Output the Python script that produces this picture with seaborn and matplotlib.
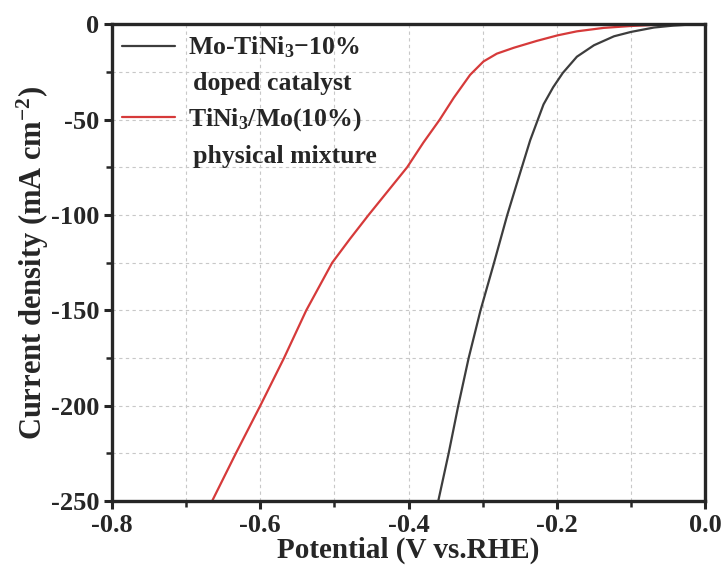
import matplotlib
matplotlib.use("Agg")
import matplotlib.pyplot as plt
import seaborn as sns
import pandas as pd
from matplotlib.ticker import MultipleLocator
from matplotlib.lines import Line2D

# Data
doped_x = [-0.360, -0.346, -0.333, -0.319, -0.303, -0.285, -0.267, -0.254, -0.236,
           -0.218, -0.205, -0.192, -0.173, -0.150, -0.123, -0.100, -0.069, -0.043,
           -0.020, 0.0]
doped_y = [-250, -225, -200, -175, -150, -125.4, -100.1, -83.5, -60.8,
           -42.0, -33.0, -25.5, -17.0, -11.0, -6.3, -4.0, -1.7, -0.7,
           -0.15, 0]
mix_x = [-0.665, -0.633, -0.600, -0.568, -0.538, -0.503, -0.479, -0.454, -0.428,
         -0.402, -0.380, -0.358, -0.339, -0.317, -0.299, -0.281, -0.258, -0.227,
         -0.199, -0.173, -0.137, -0.100, -0.070, -0.040, 0.0]
mix_y = [-250, -225, -200, -175, -150, -125, -112.5, -100, -87.5,
         -75, -62, -50.0, -38.5, -26.5, -19.5, -15.4, -12.3, -8.7,
         -5.8, -3.7, -1.9, -0.9, -0.35, -0.1, 0]
series_names = ["Mo-TiNi$_3$\u221210%", "TiNi$_3$/Mo(10%)"]
series_notes = ["\u2009doped catalyst", "\u2009physical mixture"]
colors = ["#3d3d3d", "#d63a3a"]

df = pd.concat([
    pd.DataFrame({"x": doped_x, "y": doped_y, "s": series_names[0]}),
    pd.DataFrame({"x": mix_x, "y": mix_y, "s": series_names[1]}),
])

sns.set_style("ticks")
plt.rcParams["font.family"] = ["Liberation Serif", "DejaVu Serif"]
plt.rcParams["font.weight"] = "bold"
plt.rcParams["axes.unicode_minus"] = False
plt.rcParams["mathtext.fontset"] = "custom"
plt.rcParams["mathtext.rm"] = "Liberation Serif:bold"
plt.rcParams["mathtext.bf"] = "Liberation Serif:bold"
plt.rcParams["mathtext.it"] = "Liberation Serif:bold"
plt.rcParams["mathtext.default"] = "rm"

fig = plt.figure(figsize=(7.27, 5.78), dpi=100)
ax = fig.add_axes([0.154, 0.133, 0.816, 0.825])

sns.lineplot(data=df, x="x", y="y", hue="s", palette=colors, sort=False,
             estimator=None, linewidth=1.6, ax=ax, legend=False)

ax.set_xlim(-0.8, 0.0)
ax.set_ylim(-250, 0)
ax.xaxis.set_major_locator(MultipleLocator(0.2))
ax.xaxis.set_minor_locator(MultipleLocator(0.1))
ax.yaxis.set_major_locator(MultipleLocator(50))
ax.yaxis.set_minor_locator(MultipleLocator(25))
ax.set_xticks(ax.get_xticks())
ax.set_xticklabels([f"{v:.1f}" for v in ax.get_xticks()])
ax.set_xlim(-0.8, 0.0)
ax.grid(True, which="both", linestyle=(0, (3, 3)), color="#c8c8c8", linewidth=0.8)
ax.set_axisbelow(True)

for sp in ax.spines.values():
    sp.set_linewidth(2.4)
    sp.set_visible(True)
ax.tick_params(which="major", direction="out", length=6, width=2.2, labelsize=19, pad=3)
ax.tick_params(which="minor", direction="out", length=4, width=1.8)
for lab in ax.get_xticklabels() + ax.get_yticklabels():
    lab.set_fontweight("bold")

ax.set_xlabel("Potential (V vs.RHE)", fontsize=21, fontweight="bold", labelpad=0)
ax.set_ylabel("Current density (mA cm$^{-2}$)", fontsize=22, fontweight="bold", labelpad=0)

blank = Line2D([], [], color="none")
handles = [Line2D([], [], color=colors[0], linewidth=1.6), blank,
           Line2D([], [], color=colors[1], linewidth=1.6), blank]
labels = [series_names[0], series_notes[0], series_names[1], series_notes[1]]
leg = ax.legend(handles, labels, loc="upper left", frameon=False,
                prop={"size": 18.5, "weight": "bold"}, handlelength=2.05,
                labelspacing=0.45, borderaxespad=0.1, borderpad=0.3,
                handletextpad=0.5)

fig.savefig("out.png", dpi=100)
